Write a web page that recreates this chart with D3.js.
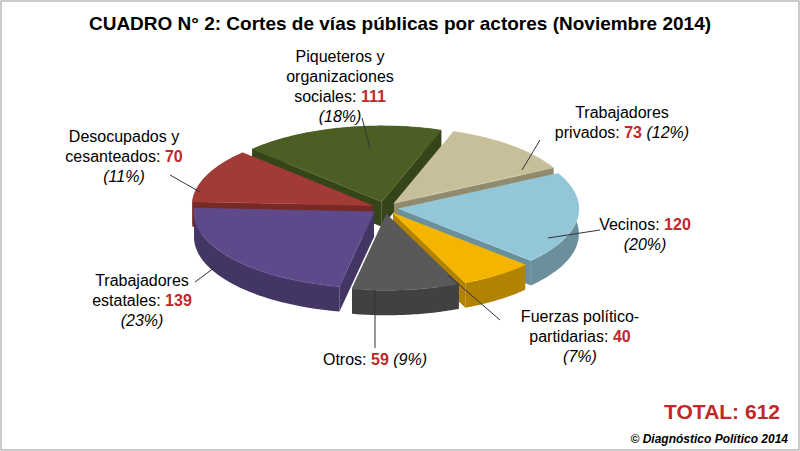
<!DOCTYPE html><html><head><meta charset="utf-8">
<script src="https://cdn.jsdelivr.net/npm/d3@7"></script>
<style>body{margin:0;background:#fff}</style></head><body>
<svg id="c" width="800" height="451"></svg>
<script>
const categories=["Piqueteros y organizaciones sociales","Trabajadores privados","Vecinos","Fuerzas político-partidarias","Otros","Trabajadores estatales","Desocupados y cesanteados"];
const values=[111,73,120,40,59,139,70];
const percents=["18%","12%","20%","7%","9%","23%","11%"];
const colors=["#4b5e24","#c6bf99","#93c6d6","#f4b400","#595959","#5e4a8a","#a23a35"];
const total=612;
const svg=d3.select("#c");
svg.append("rect").attr("x",1).attr("y",1).attr("width",798).attr("height",449).attr("fill","#fff").attr("stroke","#999");
svg.append("text").attr("x",400).attr("y",30).attr("text-anchor","middle").attr("font-family","Arial,Liberation Sans").attr("font-weight","bold").attr("font-size",19).text("CUADRO N° 2: Cortes de vías públicas por actores (Noviembre 2014)");
const cx=385,cy=208,rx=180,ry=76,depth=25,explode=14;
const pie=d3.pie().sort(null).startAngle(-46*Math.PI/180).endAngle(314*Math.PI/180)(values);
const P=(a,r,ox,oy,dz)=>[cx+ox+r*rx*Math.sin(a),cy+oy-r*ry*Math.cos(a)+dz];
const slices=pie.map((p,i)=>{const m=(p.startAngle+p.endAngle)/2;return{p,i,m,ox:explode*Math.sin(m),oy:explode*0.45*-Math.cos(m)};});
const order=slices.slice().sort((a,b)=>(-Math.cos(a.m))-(-Math.cos(b.m)));
const gs=svg.append("g"), gt=svg.append("g");
order.forEach(s=>{
  const {p,ox,oy}=s, c=d3.color(colors[s.i]), side=c.darker(0.9);
  const arc=(dz)=>d3.range(0,41).map(k=>P(p.startAngle+(p.endAngle-p.startAngle)*k/40,1,ox,oy,dz));
  const ctr=[cx+ox,cy+oy];
  [p.startAngle,p.endAngle].forEach(a=>{const e=P(a,1,ox,oy,0);
    gs.append("path").attr("d",d3.line()([ctr,e,[e[0],e[1]+depth],[ctr[0],ctr[1]+depth]])+"Z").attr("fill",side);});
  const top=arc(0),bot=arc(depth).reverse();
  gs.append("path").attr("d",d3.line()(top.concat(bot))+"Z").attr("fill",side);
  gt.append("path").attr("d",d3.line()([ctr].concat(top))+"Z").attr("fill",c).attr("stroke",c.brighter(0.3)).attr("stroke-width",0.5);
});
const F="Arial,Liberation Sans";
const labels=[
 {lines:[["Piqueteros y"],["organizaciones"],["sociales: ",{v:0}],[{p:0}]],x:340,y:62,a:"middle",l:[[362,118],[370,148]]},
 {lines:[["Trabajadores"],["privados: ",{v:1}," ",{p:1}]],x:622,y:118,a:"middle",l:[[540,140],[522,170]]},
 {lines:[["Vecinos: ",{v:2}],[{p:2}]],x:645,y:230,a:"middle",l:[[600,230],[548,238]]},
 {lines:[["Fuerzas político-"],["partidarias: ",{v:3}],[{p:3}]],x:580,y:322,a:"middle",l:[[500,320],[448,275]]},
 {lines:[["Otros: ",{v:4}," ",{p:4}]],x:375,y:365,a:"middle",l:[[375,348],[375,290]]},
 {lines:[["Trabajadores"],["estatales: ",{v:5}],[{p:5}]],x:142,y:286,a:"middle",l:[[195,282],[218,265]]},
 {lines:[["Desocupados y"],["cesanteados: ",{v:6}],[{p:6}]],x:124,y:142,a:"middle",l:[[170,175],[200,192]]}
];
labels.forEach(L=>{
  svg.append("path").attr("d",d3.line()(L.l)).attr("stroke","#333").attr("stroke-width",1).attr("fill","none");
  L.lines.forEach((ln,j)=>{
    const t=svg.append("text").attr("x",L.x).attr("y",L.y+j*20).attr("text-anchor",L.a).attr("font-family",F).attr("font-size",16).attr("fill","#000");
    ln.forEach(part=>{
      if(typeof part==="string")t.append("tspan").text(part);
      else if(part.v!==undefined)t.append("tspan").attr("fill","#c0282a").attr("font-weight","bold").text(values[part.v]);
      else t.append("tspan").attr("font-style","italic").text("("+percents[part.p]+")");
    });
  });
});
svg.append("text").attr("x",780).attr("y",419).attr("text-anchor","end").attr("font-family",F).attr("font-weight","bold").attr("font-size",21).attr("fill","#c0282a").text("TOTAL: "+total);
svg.append("text").attr("x",788).attr("y",443).attr("text-anchor","end").attr("font-family",F).attr("font-weight","bold").attr("font-style","italic").attr("font-size",12).text("© Diagnóstico Político 2014");
</script></body></html>
